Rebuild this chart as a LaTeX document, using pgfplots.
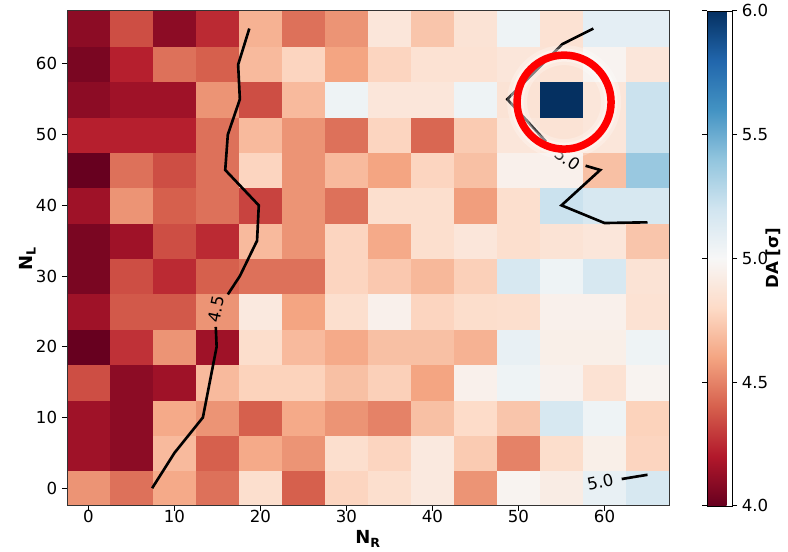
\documentclass[border=0pt]{standalone}
\usepackage{pgfplots}
\pgfplotsset{compat=1.18}
\usepackage{fontspec}
\setmainfont{DejaVu Sans}
\pgfplotsset{colormap={RdBu}{rgb255(0cm)=(103,0,31); rgb255(1cm)=(178,24,43); rgb255(2cm)=(214,96,77); rgb255(3cm)=(244,165,130); rgb255(4cm)=(253,219,199); rgb255(5cm)=(247,247,247); rgb255(6cm)=(209,229,240); rgb255(7cm)=(146,197,222); rgb255(8cm)=(67,147,195); rgb255(9cm)=(33,102,172); rgb255(10cm)=(5,48,97)}}
\begin{document}
\begin{tikzpicture}
\begin{axis}[name=main, scale only axis, width=6.02in, height=4.95in,
  xmin=-2.5, xmax=67.5, ymin=-2.5, ymax=67.5, enlargelimits=false, axis on top,
  colormap name=RdBu, point meta min=4, point meta max=6,
  xtick={0,10,...,60}, ytick={0,10,...,60}, tick pos=left, tick align=outside,
  major tick length=0.05in, tick style={black, line width=0.6pt},
  axis line style={black!80, line width=0.6pt},
  ticklabel style={font=\fontsize{12}{14}\selectfont},
  xticklabel style={yshift=4pt},
  /pgf/number format/assume math mode=true,
  xlabel={\textbf{N\textsubscript{R}}}, ylabel={\textbf{N\textsubscript{L}}},
  every axis x label/.style={at={(axis description cs:0.5,-0.067)}, anchor=center, font=\fontsize{13}{15}\selectfont},
  every axis y label/.style={at={(axis description cs:-0.066,0.5)}, rotate=90, anchor=center, font=\fontsize{13}{15}\selectfont},
  colorbar,
  colorbar style={at={(parent axis.north east)}, anchor=north west, xshift=0.262in,
    scale only axis, width=0.25in, height=4.95in,
    ytick={4,4.5,5,5.5,6}, yticklabel pos=right, tick align=outside,
    major tick length=0.05in, tick style={black, line width=0.6pt},
    /pgf/number format/fixed, /pgf/number format/fixed zerofill, /pgf/number format/precision=1, /pgf/number format/assume math mode=true,
    yticklabel style={font=\fontsize{12}{14}\selectfont},
    ylabel={\textbf{DA [σ]}},
    every axis y label/.style={at={(axis description cs:2.66,0.5)}, rotate=90, anchor=center, font=\fontsize{12}{14}\selectfont}},
]
\addplot[matrix plot*, mesh/cols=14, point meta=explicit] coordinates {
(0,0)[4.55] (5,0)[4.45] (10,0)[4.62] (15,0)[4.45] (20,0)[4.83] (25,0)[4.40] (30,0)[4.78] (35,0)[4.83] (40,0)[4.90] (45,0)[4.55] (50,0)[4.97] (55,0)[4.92] (60,0)[5.08] (65,0)[5.17]
(0,5)[4.15] (5,5)[4.10] (10,5)[4.68] (15,5)[4.40] (20,5)[4.62] (25,5)[4.55] (30,5)[4.83] (35,5)[4.78] (40,5)[4.90] (45,5)[4.74] (50,5)[4.50] (55,5)[4.82] (60,5)[4.94] (65,5)[4.78]
(0,10)[4.15] (5,10)[4.10] (10,10)[4.62] (15,10)[4.55] (20,10)[4.40] (25,10)[4.62] (30,10)[4.55] (35,10)[4.50] (40,10)[4.70] (45,10)[4.81] (50,10)[4.72] (55,10)[5.17] (60,10)[5.05] (65,10)[4.77]
(0,15)[4.35] (5,15)[4.10] (10,15)[4.15] (15,15)[4.68] (20,15)[4.77] (25,15)[4.77] (30,15)[4.70] (35,15)[4.76] (40,15)[4.60] (45,15)[4.95] (50,15)[5.05] (55,15)[4.96] (60,15)[4.85] (65,15)[4.97]
(0,20)[4.00] (5,20)[4.27] (10,20)[4.55] (15,20)[4.15] (20,20)[4.82] (25,20)[4.68] (30,20)[4.62] (35,20)[4.70] (40,20)[4.70] (45,20)[4.65] (50,20)[5.08] (55,20)[4.94] (60,20)[4.94] (65,20)[5.05]
(0,25)[4.15] (5,25)[4.38] (10,25)[4.38] (15,25)[4.55] (20,25)[4.90] (25,25)[4.60] (30,25)[4.83] (35,25)[4.95] (40,25)[4.78] (45,25)[4.82] (50,25)[4.83] (55,25)[4.95] (60,25)[4.95] (65,25)[4.85]
(0,30)[4.05] (5,30)[4.35] (10,30)[4.25] (15,30)[4.40] (20,30)[4.45] (25,30)[4.45] (30,30)[4.78] (35,30)[4.73] (40,30)[4.67] (45,30)[4.76] (50,30)[5.17] (55,30)[5.05] (60,30)[5.17] (65,30)[4.86]
(0,35)[4.05] (5,35)[4.15] (10,35)[4.35] (15,35)[4.25] (20,35)[4.68] (25,35)[4.55] (30,35)[4.78] (35,35)[4.62] (40,35)[4.83] (45,35)[4.88] (50,35)[4.83] (55,35)[4.86] (60,35)[4.88] (65,35)[4.72]
(0,40)[4.15] (5,40)[4.55] (10,40)[4.40] (15,40)[4.45] (20,40)[4.32] (25,40)[4.55] (30,40)[4.45] (35,40)[4.83] (40,40)[4.83] (45,40)[4.58] (50,40)[4.83] (55,40)[5.22] (60,40)[5.17] (65,40)[5.17]
(0,45)[4.00] (5,45)[4.45] (10,45)[4.35] (15,45)[4.45] (20,45)[4.78] (25,45)[4.55] (30,45)[4.68] (35,45)[4.60] (40,45)[4.78] (45,45)[4.70] (50,45)[4.95] (55,45)[4.95] (60,45)[4.70] (65,45)[5.38]
(0,50)[4.22] (5,50)[4.22] (10,50)[4.22] (15,50)[4.45] (20,50)[4.68] (25,50)[4.55] (30,50)[4.45] (35,50)[4.78] (40,50)[4.42] (45,50)[4.74] (50,50)[4.88] (55,50)[4.86] (60,50)[4.88] (65,50)[5.22]
(0,55)[4.10] (5,55)[4.15] (10,55)[4.15] (15,55)[4.55] (20,55)[4.35] (25,55)[4.68] (30,55)[5.05] (35,55)[4.88] (40,55)[4.88] (45,55)[5.05] (50,55)[4.86] (55,55)[6.00] (60,55)[4.88] (65,55)[5.22]
(0,60)[4.05] (5,60)[4.22] (10,60)[4.45] (15,60)[4.40] (20,60)[4.68] (25,60)[4.78] (30,60)[4.60] (35,60)[4.78] (40,60)[4.85] (45,60)[4.85] (50,60)[4.88] (55,60)[4.86] (60,60)[4.97] (65,60)[4.88]
(0,65)[4.10] (5,65)[4.35] (10,65)[4.10] (15,65)[4.25] (20,65)[4.65] (25,65)[4.45] (30,65)[4.55] (35,65)[4.88] (40,65)[4.72] (45,65)[4.86] (50,65)[5.05] (55,65)[4.85] (60,65)[5.10] (65,65)[5.10]
};
% 4.5 contour
\addplot[black, line width=1.9pt, no marks] coordinates {(18.7,65) (17.4,59.9) (17.6,55) (16.2,50) (15.9,45) (19.8,40) (19.6,35) (17.6,30) (16.2,27.4)};
\addplot[black, line width=1.9pt, no marks] coordinates {(14.8,22.8) (14.9,20) (13.3,10) (10,5) (7.4,0)};
% 5.0 contour
\addplot[black, line width=1.9pt, no marks] coordinates {(58.7,65) (55.1,62.8) (48.7,55) (53.2,49.0)};
\addplot[black, line width=1.9pt, no marks] coordinates {(57.8,45.6) (59.5,45) (55,40) (60,37.5) (65,37.6)};
\addplot[black, line width=1.9pt, no marks] coordinates {(62,1.3) (65,1.9)};
\node[rotate=78, font=\fontsize{12}{14}\selectfont, inner sep=0pt] at (axis cs:14.9,25.3) {4.5};
\node[rotate=-35, font=\fontsize{12}{14}\selectfont, inner sep=0pt] at (axis cs:55.7,46.6) {5.0};
\node[rotate=12, font=\fontsize{12}{14}\selectfont, inner sep=0pt] at (axis cs:59.5,0.9) {5.0};
% highlight ring
\addplot[only marks, mark=o, mark size=0.47in, mark options={draw=white, draw opacity=0.25, line width=0.2in}] coordinates {(55.3,54.6)};
\addplot[only marks, mark=o, mark size=0.47in, mark options={draw=white, draw opacity=0.35, line width=0.13in}] coordinates {(55.3,54.6)};
\addplot[only marks, mark=o, mark size=0.47in, mark options={draw=red, line width=0.075in}] coordinates {(55.3,54.6)};
\end{axis}
\path (main.south west) ++(-0.67in,-0.43in) rectangle ++(7.88in,5.48in);
\end{tikzpicture}
\end{document}
